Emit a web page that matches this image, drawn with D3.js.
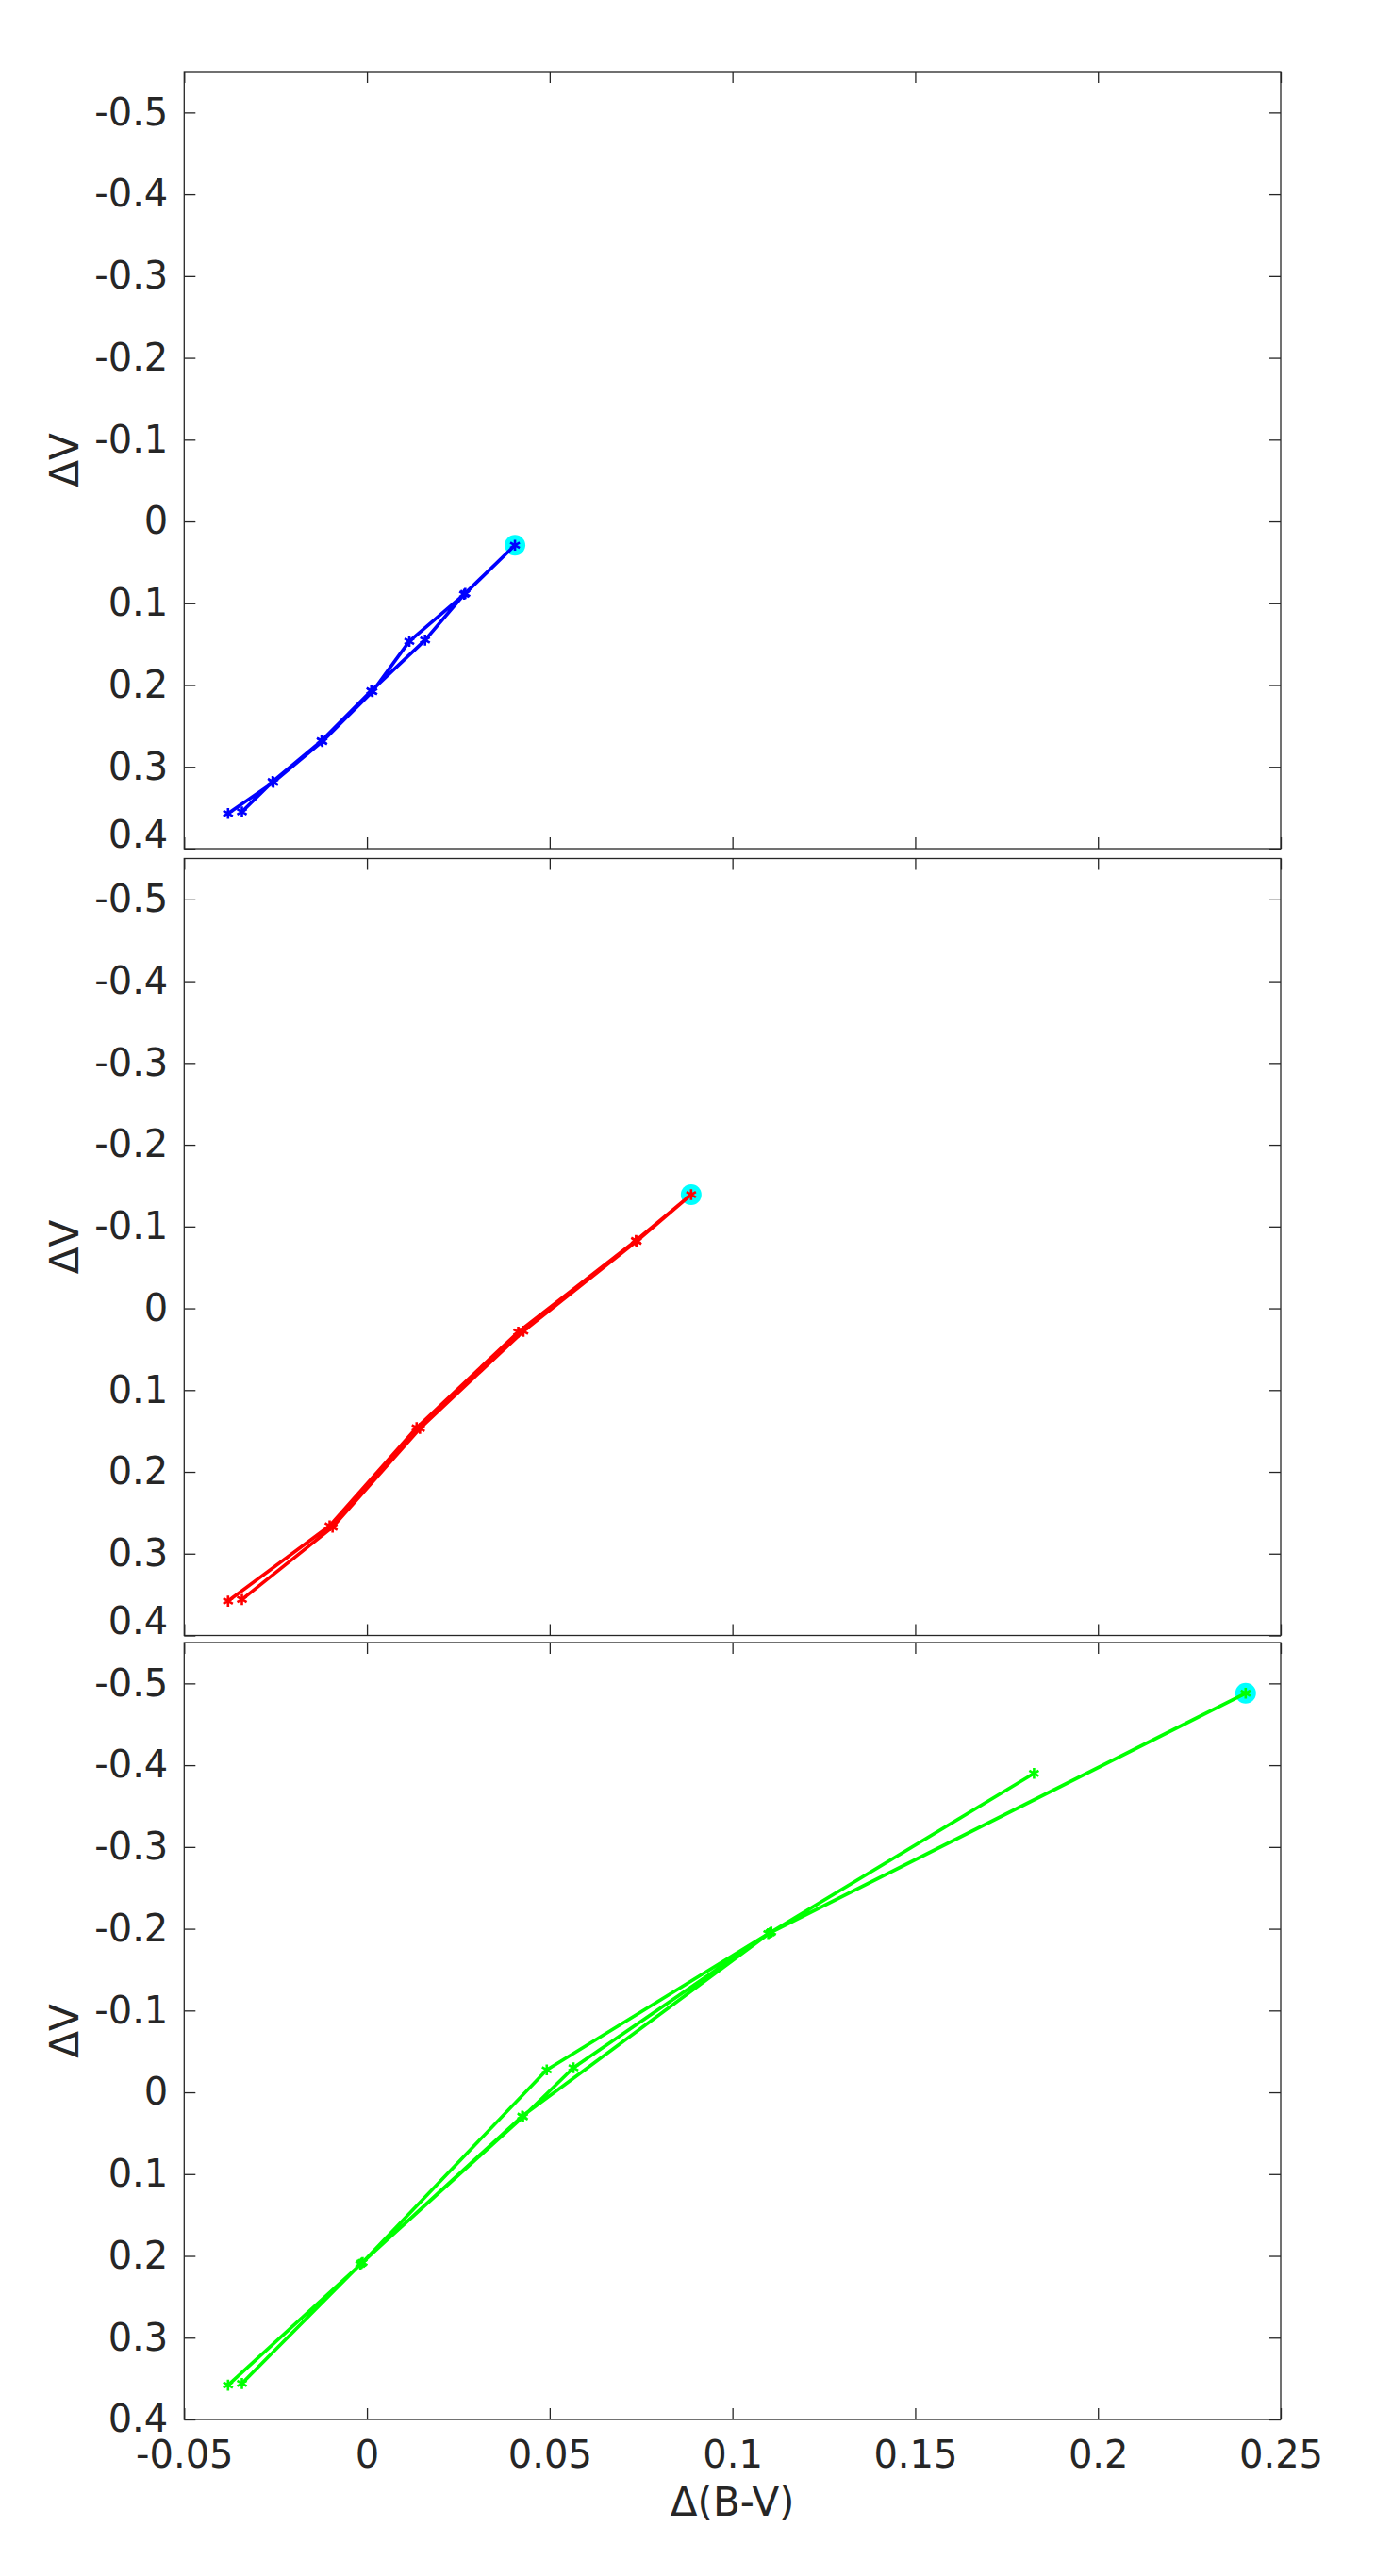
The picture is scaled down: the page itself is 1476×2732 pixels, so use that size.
<!DOCTYPE html>
<meta charset="utf-8">
<style>
  body { margin: 0; background: #fff; }
  text { font-family: "DejaVu Sans", sans-serif; fill: #262626; }
</style>
<svg width="1476" height="2732"></svg>
<script src="https://d3js.org/d3.v7.min.js"></script>
<script>
// colour-magnitude loops, one panel per filter; NaN breaks a line
var bvBlue = [-0.0380, -0.0256, -0.0122, 0.0015, 0.0116, 0.0269, 0.0405, 0.0266, 0.0159, 0.0012, -0.0124, -0.0258, -0.0342];
var dvBlue = [0.357, 0.319, 0.269, 0.208, 0.1465, 0.088, 0.029, 0.089, 0.145, 0.207, 0.268, 0.318, 0.355];

var bvRed = [-0.0380, -0.0102, 0.0136, 0.0414, 0.0736, 0.0887, 0.0738, 0.0428, 0.0145, -0.0094, -0.0342];
var dvRed = [0.358, 0.266, 0.146, 0.029, -0.083, -0.139, -0.082, 0.028, 0.147, 0.2676, 0.356];

var bvGreen = [-0.0342, -0.0015, 0.0425, 0.1103, 0.2404, 0.1098, 0.0492, -0.0012, -0.0380, NaN, 0.1825, 0.1106, 0.0565, 0.0427, -0.0018];
var dvGreen = [0.356, 0.209, 0.029, -0.195, -0.488, -0.194, -0.0275, 0.208, 0.358, NaN, -0.390, -0.196, -0.030, 0.030, 0.210];

var xTicks = [-0.05, 0, 0.05, 0.1, 0.15, 0.2, 0.25];
var xTickLabels = ["-0.05", "0", "0.05", "0.1", "0.15", "0.2", "0.25"];
var yTicks = [-0.5, -0.4, -0.3, -0.2, -0.1, 0, 0.1, 0.2, 0.3, 0.4];
var yTickLabels = ["-0.5", "-0.4", "-0.3", "-0.2", "-0.1", "0", "0.1", "0.2", "0.3", "0.4"];

var panels = [
  {bv: bvBlue, dv: dvBlue, color: "#0000ff"},
  {bv: bvRed, dv: dvRed, color: "#ff0000"},
  {bv: bvGreen, dv: dvGreen, color: "#00ff00"}
];

var svg = d3.select("svg"),
    left = 195.3,
    width = 1358 - left,
    height = 824,
    tops = [76, 910.5, 1742],
    axisColor = "#262626";

var x = d3.scaleLinear().domain([-0.05, 0.25]).range([0, width]);
var y = d3.scaleLinear().domain([-0.55, 0.4]).range([0, height]);

var line = d3.line()
    .defined(function(d) { return !isNaN(d[0]) && !isNaN(d[1]); })
    .x(function(d) { return x(d[0]); })
    .y(function(d) { return y(d[1]); });

var star = d3.symbol().type(d3.symbolAsterisk || d3.symbolCross).size(95);

function styleAxis(sel, fontSize) {
  sel.select(".domain").remove();
  sel.selectAll(".tick line").attr("stroke", axisColor).attr("stroke-width", 1.3);
  sel.attr("font-size", fontSize).attr("font-family", "DejaVu Sans, sans-serif");
  sel.selectAll(".tick text").attr("fill", axisColor);
}

panels.forEach(function(p, k) {
  var g = svg.append("g").attr("transform", "translate(" + left + "," + tops[k] + ")");
  var pts = p.bv.map(function(v, i) { return [v, p.dv[i]]; });
  var last = k === panels.length - 1;

  // ticks on all four sides, pointing inward
  var yAx = g.append("g")
      .call(d3.axisLeft(y).tickValues(yTicks).tickFormat(function(d, i) { return yTickLabels[i]; })
        .tickSizeInner(-12).tickSizeOuter(0).tickPadding(17))
      .call(styleAxis, 40);
  // bottom label of the upper panels is lifted to sit inside the box
  if (!last) {
    yAx.selectAll(".tick text").filter(function(d) { return d === yTicks[yTicks.length - 1]; })
        .attr("dy", "-0.05em");
  }
  g.append("g").attr("transform", "translate(" + width + ",0)")
      .call(d3.axisRight(y).tickValues(yTicks).tickFormat("").tickSizeInner(-12).tickSizeOuter(0))
      .call(styleAxis, 40);
  g.append("g")
      .call(d3.axisTop(x).tickValues(xTicks).tickFormat("").tickSizeInner(-12).tickSizeOuter(0))
      .call(styleAxis, 40);
  g.append("g").attr("transform", "translate(0," + height + ")")
      .call(d3.axisBottom(x).tickValues(xTicks)
        .tickFormat(function(d, i) { return last ? xTickLabels[i] : ""; })
        .tickSizeInner(-12).tickSizeOuter(0).tickPadding(23))
      .call(styleAxis, 40);

  g.append("rect")
      .attr("width", width).attr("height", height)
      .attr("fill", "none").attr("stroke", axisColor).attr("stroke-width", 1.3);

  // brightest point
  var iMax = d3.minIndex(p.dv);
  g.append("circle")
      .attr("cx", x(p.bv[iMax])).attr("cy", y(p.dv[iMax]))
      .attr("r", 11).attr("fill", "#00ffff");

  g.append("path").datum(pts)
      .attr("fill", "none").attr("stroke", p.color).attr("stroke-width", 3.6)
      .attr("stroke-linejoin", "round").attr("d", line);

  g.selectAll(".mk").data(pts.filter(function(d) { return !isNaN(d[1]); }))
    .enter().append("path")
      .attr("transform", function(d) { return "translate(" + x(d[0]) + "," + y(d[1]) + ")"; })
      .attr("d", star).attr("fill", "none").attr("stroke", p.color).attr("stroke-width", 2.6);

  svg.append("text")
      .attr("transform", "translate(83," + (tops[k] + height / 2) + ") rotate(-90)")
      .attr("text-anchor", "middle").attr("font-size", 42)
      .text("\u0394V");

  if (last) {
    svg.append("text")
        .attr("x", left + width / 2).attr("y", tops[k] + height + 102)
        .attr("text-anchor", "middle").attr("font-size", 42)
        .text("\u0394(B-V)");
  }
});
</script>
